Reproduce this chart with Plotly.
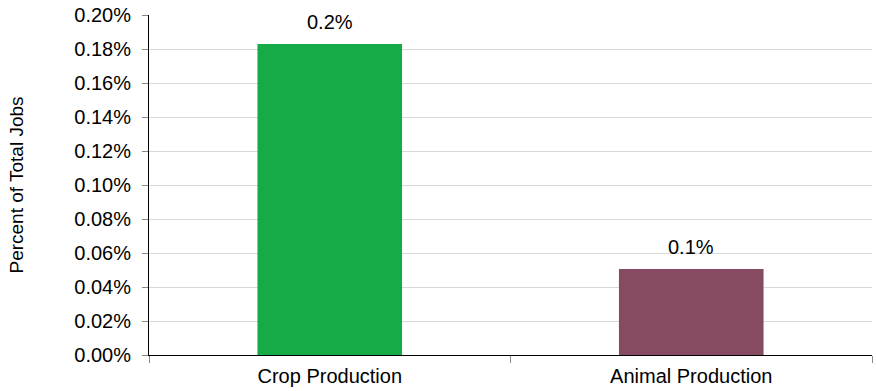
import plotly.graph_objects as go

categories = ["Crop Production", "Animal Production"]
values = [0.00183, 0.000506]
colors = ["#17ab47", "#874a63"]
tick_vals = [i * 0.0002 for i in range(11)]

FONT = "Liberation Sans, Arial, sans-serif"

fig = go.Figure()
fig.add_trace(go.Bar(x=categories, y=values, marker=dict(color=colors, line=dict(width=0)),
                     width=0.4, hoverinfo="skip"))

for c, v in zip(categories, values):
    fig.add_annotation(x=c, y=v, text=f"{v*100:.1f}%", showarrow=False,
                       yanchor="middle", yshift=22,
                       font=dict(family=FONT, size=20, color="#000"))

fig.update_layout(
    width=876, height=391,
    margin=dict(l=149, r=4, t=15, b=36, autoexpand=False),
    paper_bgcolor="white", plot_bgcolor="white",
    font=dict(family=FONT, size=20, color="#000"),
    showlegend=False,
    bargap=0.6,
)
fig.update_yaxes(range=[0, 0.002], tickvals=tick_vals, tickformat=".2%",
                 showgrid=True, gridcolor="#d9d9d9", gridwidth=1,
                 showline=True, linecolor="#000", linewidth=1,
                 ticks="outside", ticklen=6, tickcolor="#888",
                 ticklabelstandoff=7, automargin=False,
                 zeroline=False,
                 title=dict(text="Percent of Total Jobs", standoff=45,
                            font=dict(family=FONT, size=19)))
fig.update_xaxes(showline=True, linecolor="#000", linewidth=1,
                 tickson="boundaries", ticks="outside", ticklen=7, tickcolor="#888",
                 ticklabelstandoff=3, automargin=False,
                 showgrid=False)

fig.write_html("out.html")
